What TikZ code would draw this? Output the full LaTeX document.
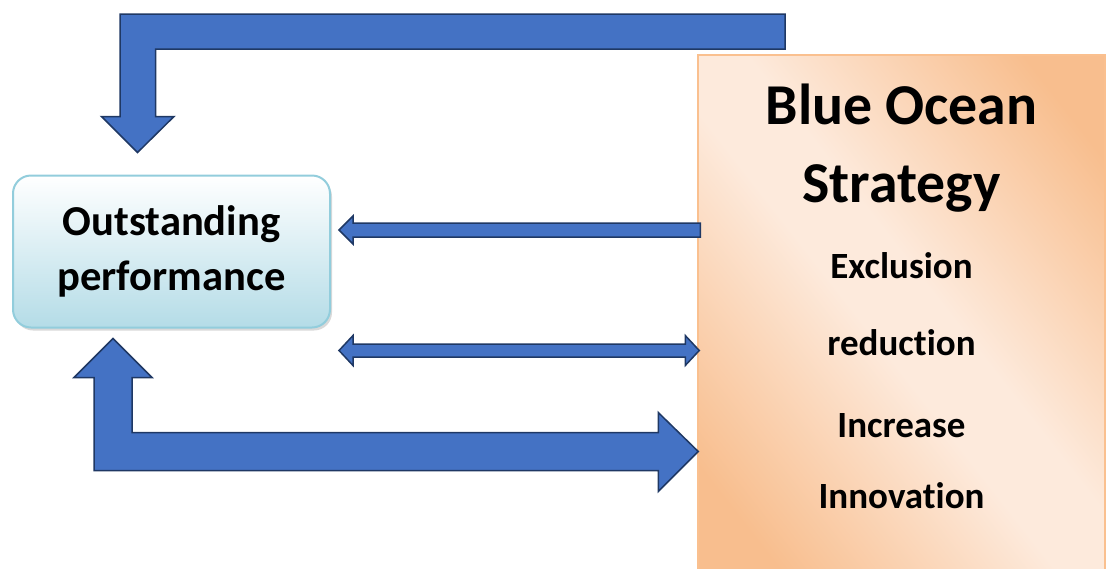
\documentclass[tikz,border=0pt]{standalone}
\usepackage{fontspec}
\setmainfont{Carlito}[Ligatures=NoCommon]
\usetikzlibrary{calc,shadows}

\definecolor{arrowblue}{RGB}{68,114,196}
\definecolor{arrowline}{RGB}{31,56,100}
\definecolor{perfline}{RGB}{146,205,220}
\definecolor{perfblue}{RGB}{180,220,231}
\definecolor{peachdark}{RGB}{248,190,142}
\definecolor{peachlight}{RGB}{253,234,220}
\definecolor{peachline}{RGB}{250,192,143}
\pgfdeclarehorizontalshading{peach}{100bp}{color(0bp)=(peachdark); color(22bp)=(peachdark); color(46bp)=(peachlight); color(54bp)=(peachlight); color(78bp)=(peachdark); color(100bp)=(peachdark)}

\tikzset{
  blockarrow/.style={fill=arrowblue, draw=arrowline, line width=1.5pt, line join=miter},
  perfbox/.style={rectangle, rounded corners=18pt, draw=perfline, line width=2pt,
    top color=white, bottom color=perfblue, minimum width=317pt, minimum height=152pt,
    align=center, inner sep=0pt, font=\fontsize{42.6}{55}\selectfont\bfseries,
    drop shadow={shadow xshift=2pt, shadow yshift=-3pt, opacity=.3}},
  bosbox/.style={rectangle, draw=peachline, line width=1.5pt, shade, shading=peach,
    shading angle=38, minimum width=407pt, minimum height=515pt},
  bostitle/.style={anchor=base, inner sep=0pt, font=\fontsize{57.8}{60}\selectfont\bfseries},
  bositem/.style={anchor=base, inner sep=0pt, font=\fontsize{37}{40}\selectfont\bfseries},
}

\begin{document}
\begin{tikzpicture}[x=1pt, y=-1pt]
  \useasboundingbox (0,0) rectangle (1110,568);

  \node[perfbox] (perf) at (171.5,251.5) {Outstanding\\performance};
  \node[bosbox] (bos) at (901.5,312.5) {};

  % right box texts
  \node[bostitle] (blue) at ($(bos.north)+(0,70)$) {Blue Ocean};
  \node[bostitle] (strat) at ($(bos.north)+(0,148)$) {Strategy};
  \node[bositem] (excl) at ($(bos.north)+(0,224)$) {Exclusion};
  \node[bositem] (redu) at ($(bos.north)+(0,301)$) {reduction};
  \node[bositem] (incr) at ($(bos.north)+(0,383)$) {Increase};
  \node[bositem] (inno) at ($(bos.north)+(0,454)$) {Innovation};

  % helper heights
  \coordinate (yL) at (0,230);
  \coordinate (yD) at (0,350.5);
  \coordinate (yB) at (0,451.5);

  % top bent arrow -> perf
  \coordinate (topTail) at (785,31.5);
  \coordinate (topTip) at ($(perf.north)+(-34,-22)$);
  \filldraw[blockarrow] (topTip) -- ++(36.5,-36) -- ++(-18.5,0)
    -- ($(topTip |- topTail)+(18,17.5)$) -- ($(topTail)+(0,17.5)$) -- ++(0,-35)
    -- ($(topTip |- topTail)+(-17.5,-17.5)$) -- ($(topTip)+(-17.5,-36)$) -- ++(-18.5,0) -- cycle;

  % bos -> perf
  \coordinate (tipL) at ($(perf.east |- yL)+(8,0)$);
  \coordinate (tailL) at ($(bos.west |- yL)+(3,0)$);
  \filldraw[blockarrow] (tipL) -- ++(14,-14) -- ++(0,7) -- ($(tailL)+(0,-7)$) -- ++(0,14)
    -- ($(tipL)+(14,7)$) -- ++(0,7) -- cycle;

  % perf <-> bos
  \coordinate (dl) at ($(perf.east |- yD)+(8,0)$);
  \coordinate (dr) at ($(bos.west |- yD)+(2,0)$);
  \filldraw[blockarrow] (dl) -- ++(14,-15) -- ++(0,8.5) -- ($(dr)+(-14,-6.5)$) -- ++(0,-8.5)
    -- (dr) -- ++(-14,15) -- ++(0,-8.5) -- ($(dl)+(14,6.5)$) -- ++(0,8.5) -- cycle;

  % big bent arrow perf <-> bos
  \coordinate (upTip) at ($(perf.south)+(-58.5,10)$);
  \coordinate (rTip) at ($(bos.west |- yB)+(1,0)$);
  \filldraw[blockarrow] (upTip) -- ++(39,39) -- ++(-20,0) -- ($(upTip |- rTip)+(19,-19)$)
    -- ($(rTip)+(-40,-19)$) -- ++(0,-20) -- (rTip) -- ++(-40,40) -- ++(0,-21)
    -- ($(upTip |- rTip)+(-19,19)$) -- ($(upTip)+(-19,39)$) -- ++(-20,0) -- cycle;

\end{tikzpicture}
\end{document}
